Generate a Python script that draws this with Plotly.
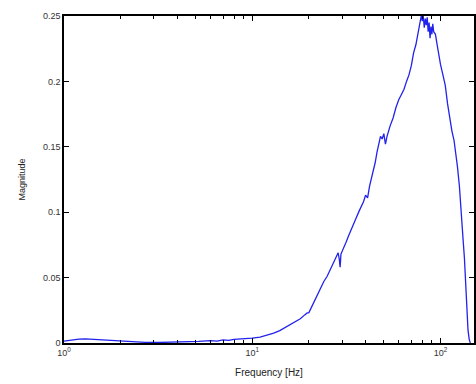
import plotly.graph_objects as go

freq = [1.0, 1.1, 1.2, 1.3, 1.45, 1.6, 1.8, 2.0, 2.3, 2.7, 3.2, 3.8, 4.5, 5.2, 6.0, 6.5, 7.0, 7.5, 8.0, 9.0,
        10, 11, 12, 13, 14, 15, 16, 17, 18, 19, 19.5, 20, 20.5, 21, 22, 23, 24, 25, 26, 27, 28, 28.6, 29, 29.3,
        29.6, 30.5, 31.5, 32.5, 34, 35.5, 37, 38, 39, 40, 41, 42, 43, 44, 45, 46, 47, 48, 49, 50, 51, 52, 54,
        56, 58, 60, 62, 64, 66, 68, 70, 72, 74, 76, 78, 79, 80, 81, 82, 83, 84, 85, 86, 87, 88, 89, 90, 91, 92,
        94, 96, 98, 100, 103, 106, 109, 112, 115, 118, 120, 123, 126, 128, 130, 132, 134, 136, 138, 140, 142, 144]
magnitude = [0.0015, 0.0025, 0.003, 0.0032, 0.0028, 0.0022, 0.0016, 0.0012, 0.0008, 0.0005, 0.0004, 0.0006,
             0.0009, 0.0013, 0.0018, 0.0015, 0.0024, 0.002, 0.0028, 0.0032,
             0.0038, 0.0045, 0.0058, 0.0075, 0.0095, 0.0118, 0.014, 0.0162, 0.0185, 0.0215, 0.0228, 0.0232,
             0.0265, 0.03, 0.035, 0.041, 0.047, 0.051, 0.056, 0.061, 0.066, 0.069, 0.064, 0.058,
             0.068, 0.072, 0.077, 0.082, 0.088, 0.095, 0.101, 0.104, 0.108, 0.113, 0.111, 0.12, 0.126, 0.131,
             0.138, 0.146, 0.153, 0.158, 0.156, 0.16, 0.152, 0.158, 0.166,
             0.172, 0.18, 0.186, 0.19, 0.194, 0.2, 0.205, 0.212, 0.222, 0.228, 0.238, 0.247, 0.25, 0.246, 0.25,
             0.241, 0.248, 0.243, 0.249, 0.238, 0.245, 0.233, 0.242, 0.236, 0.244, 0.238,
             0.236, 0.228, 0.22, 0.213, 0.205, 0.197, 0.183, 0.172, 0.162, 0.155, 0.148, 0.135, 0.12, 0.108,
             0.093, 0.078, 0.065, 0.045, 0.025, 0.01, 0.003, 0.0]

x_tickvals = [1, 10, 100]
x_ticktext = ["10<sup>0</sup>", "10<sup>1</sup>", "10<sup>2</sup>"]
x_minor = [2, 3, 4, 5, 6, 7, 8, 9, 20, 30, 40, 50, 60, 70, 80, 90, 200]
y_tickvals = [0, 0.05, 0.1, 0.15, 0.2, 0.25]
y_ticktext = ["0", "0.05", "0.1", "0.15", "0.2", "0.25"]

fig = go.Figure()
fig.add_trace(go.Scatter(x=freq, y=magnitude, mode="lines",
                         line=dict(color="#2222ee", width=1.3), showlegend=False))

font = dict(family="Liberation Sans, Arial, sans-serif", size=9, color="#333333")
fig.update_layout(
    width=476, height=384,
    margin=dict(l=64, r=0, t=16, b=41),
    paper_bgcolor="white", plot_bgcolor="white",
    font=font,
    xaxis=dict(type="log", range=[0, 2.178], tickmode="array", tickvals=x_tickvals, ticktext=x_ticktext,
               ticks="inside", ticklen=5, tickwidth=1, tickcolor="black",
               showline=True, linecolor="black", linewidth=1.5, mirror="ticks",
               showgrid=False, zeroline=False,
               minor=dict(tickvals=x_minor, ticks="inside", ticklen=3, tickcolor="black", showgrid=False),
               title=dict(text="Frequency [Hz]", font=dict(size=10, color="#222222"), standoff=12),
               tickfont=dict(size=9, color="#333333")),
    yaxis=dict(range=[0, 0.25], tickmode="array", tickvals=y_tickvals, ticktext=y_ticktext,
               ticks="inside", ticklen=5, tickwidth=1, tickcolor="black",
               showline=True, linecolor="black", linewidth=1.5, mirror="ticks",
               showgrid=False, zeroline=False,
               title=dict(text="Magnitude", font=dict(size=9, color="#222222"), standoff=16),
               tickfont=dict(size=9, color="#333333")),
)

fig.write_html("out.html")
